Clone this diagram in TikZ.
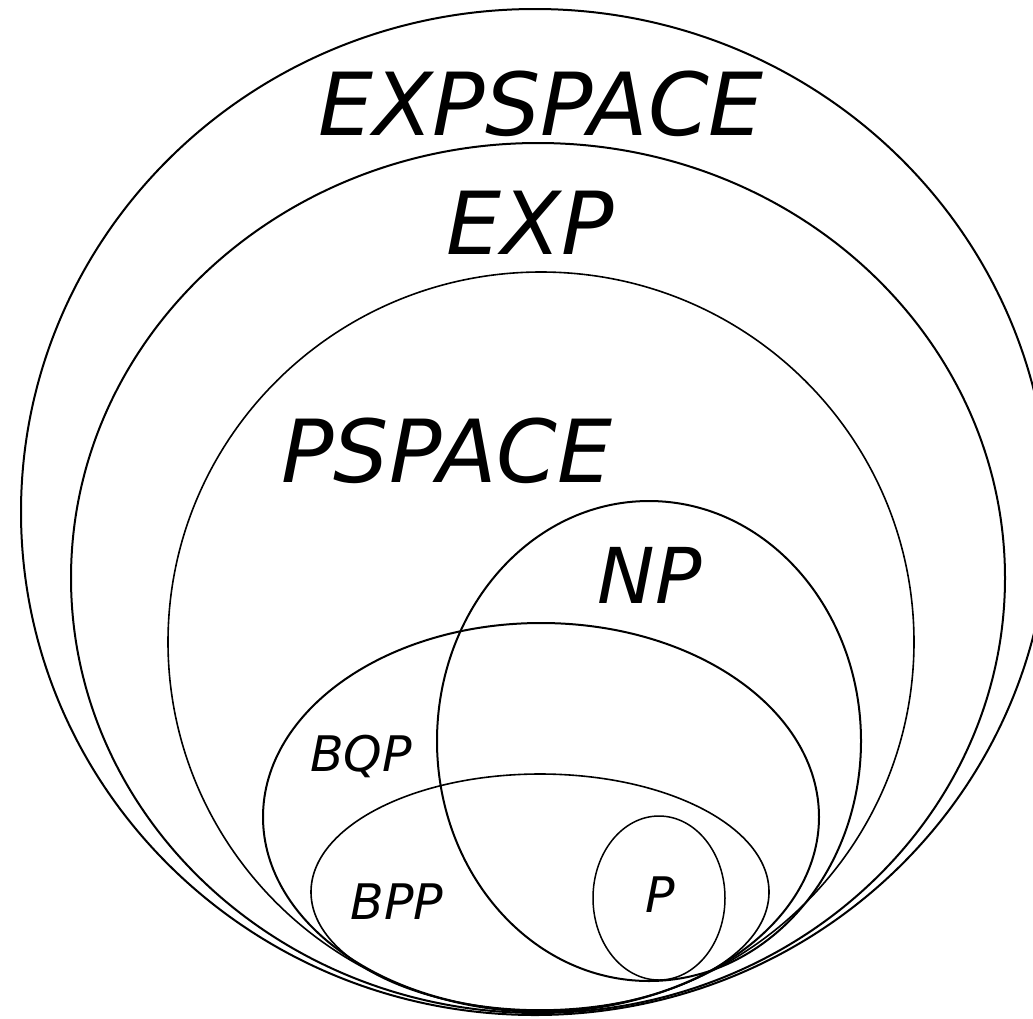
\documentclass[tikz,border=0pt]{standalone}
\usepackage{fontspec}
\setmainfont{DejaVu Sans}
\usetikzlibrary{shapes.geometric}
\begin{document}
\begin{tikzpicture}[x=1pt,y=-1pt,
  cls/.style={draw=black, shape=ellipse, inner sep=0pt, line width=2pt},
  thin/.style={line width=1.6pt},
  lab/.style={anchor=base, inner sep=0pt},
  huge/.style={font=\fontsize{87}{100}\selectfont\itshape},
  mid/.style={font=\fontsize{77}{90}\selectfont\itshape},
  small/.style={font=\fontsize{49}{58}\selectfont\itshape}]
\useasboundingbox (0,0) rectangle (1033,1018);
\clip (0,0) rectangle (1033,1018);
% sets
\node[cls, minimum width=1028pt, minimum height=1006pt] (expspace) at (535,512) {};
\node[cls, minimum width=934pt, minimum height=870pt] (exp) at (538,578) {};
\node[cls, thin, minimum width=746pt, minimum height=740pt] (pspace) at (541,642) {};
\node[cls, minimum width=424pt, minimum height=480pt] (np) at (649,741) {};
\node[cls, minimum width=556pt, minimum height=388pt] (bqp) at (541,817) {};
\node[cls, thin, minimum width=458pt, minimum height=236pt] (bpp) at (540,892) {};
\node[cls, line width=1.5pt, minimum width=132pt, minimum height=164pt] (p) at (659,898) {};
% labels
\node[lab, huge] (lexpspace) at (541,135) {EXPSPACE};
\node[lab, huge] (lexp) at (530,254) {EXP};
\node[lab, huge] (lpspace) at (447,482) {PSPACE};
\node[lab, mid] (lnp) at (650,603) {NP};
\node[lab, small] (lbqp) at (361,771) {BQP};
\node[lab, small] (lbpp) at (397,919) {BPP};
\node[lab, small] (lp) at (660,912) {P};
\end{tikzpicture}
\end{document}
